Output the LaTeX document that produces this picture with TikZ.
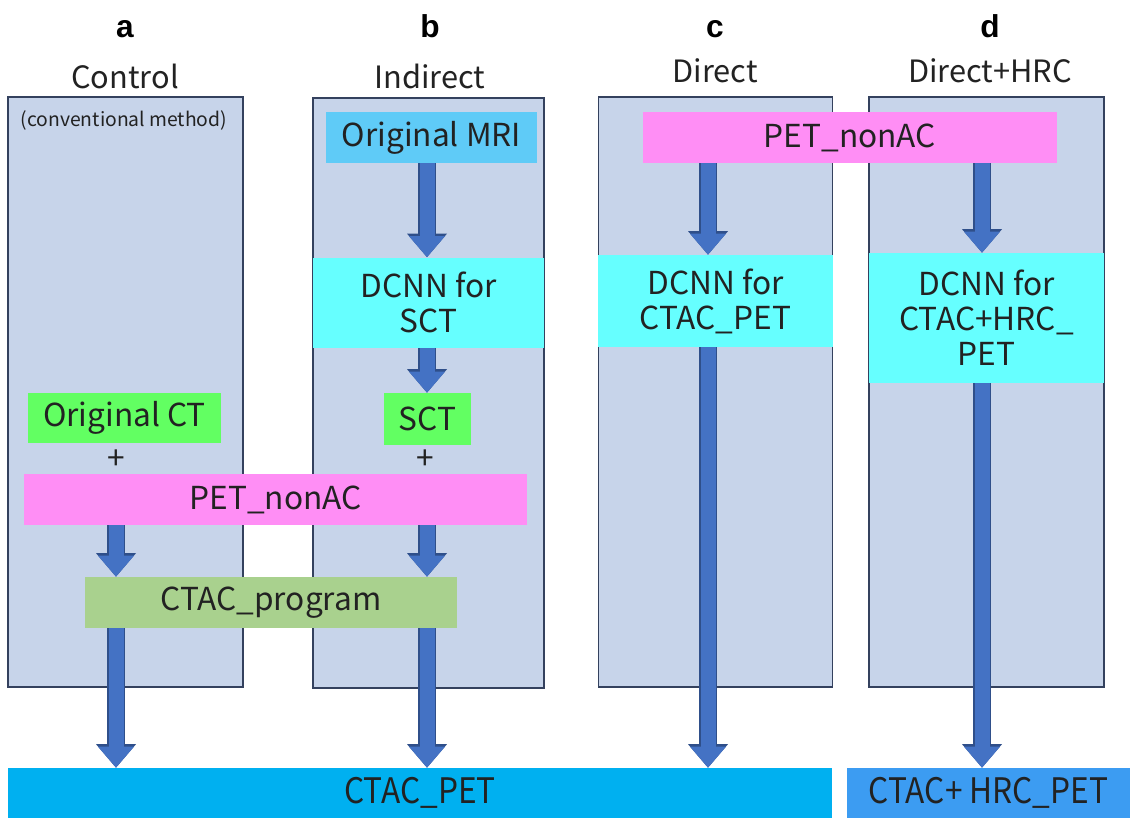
\documentclass[tikz,border=0pt]{standalone}
\usepackage{fontspec}
\setmainfont{Noto Sans CJK JP}
\newfontfamily\letterfont{Liberation Sans}
\newfontfamily\narrowfont[FakeStretch=0.9]{Noto Sans CJK JP}
\usepackage{xcolor}
\usepackage{tikz}
\usetikzlibrary{arrows.meta}
\usetikzlibrary{shapes}
\definecolor{panelfill}{HTML}{C7D4EA}
\definecolor{paneledge}{HTML}{34415E}
\definecolor{mriblue}{HTML}{5FCBF7}
\definecolor{petpink}{HTML}{FF8EF5}
\definecolor{dcnncyan}{HTML}{66FFFF}
\definecolor{ctgreen}{HTML}{62FF62}
\definecolor{proggreen}{HTML}{A9D18E}
\definecolor{ctacblue}{HTML}{00B0F0}
\definecolor{hrcblue}{HTML}{3C9CF2}
\definecolor{arrowfill}{HTML}{4472C4}
\definecolor{arrowedge}{HTML}{2F4F8A}
\definecolor{textdark}{HTML}{222222}
\tikzset{>=latex}
\tikzstyle{panel} = [rectangle, draw = paneledge, fill = panelfill, line width = 0.6pt, minimum width = 4.7cm, minimum height = 11.8cm, inner sep = 0]
\tikzstyle{stepbox} = [rectangle, inner sep = 0, text = textdark, align = center, font = \fontsize{18}{20}\selectfont]
\tikzstyle{title} = [inner sep = 0, anchor = base, text = textdark, font = \fontsize{17.5}{20}\selectfont]
\tikzstyle{letter} = [inner sep = 0, anchor = base, font = \fontsize{18}{20}\letterfont\bfseries]
\tikzstyle{flow} = [line width = 0.3cm, draw = arrowfill, -{Triangle[width = 0.72cm, length = 0.42cm, line width = 0pt]}, preaction = {draw = arrowedge, line width = 0.35cm, -{Triangle[width = 0.8cm, length = 0.47cm, line width = 0pt]}}]

\begin{document}
\begin{tikzpicture}
\useasboundingbox (0, 0) rectangle (22.6, -16.36);
\node [letter] (la) at (2.5, -0.74) {a};
\node [letter] (lb) at (8.6, -0.74) {b};
\node [letter] (lc) at (14.3, -0.74) {c};
\node [letter] (ld) at (19.8, -0.74) {d};
\node [title] (ta) at (2.5, -1.76) {Control};
\node [title] (tb) at (8.6, -1.76) {Indirect};
\node [title] (tc) at (14.3, -1.64) {Direct};
\node [title] (td) at (19.8, -1.64) {Direct+HRC};
\node [panel] (pa) at (2.51, -7.84) {};
\node [panel, minimum width = 4.62cm] (pb) at (8.57, -7.86) {};
\node [panel, minimum width = 4.68cm] (pc) at (14.31, -7.84) {};
\node [panel] (pd) at (19.73, -7.84) {};
\node [inner sep = 0, text = textdark, font = \fontsize{11}{12}\selectfont] (conv) at (2.48, -2.4) {(conventional method)};
\node [stepbox, fill = mriblue, minimum width = 4.22cm, minimum height = 1.02cm] (mri) at (8.63, -2.75) {Original MRI};
\node [stepbox, fill = petpink, minimum width = 8.28cm, minimum height = 1.02cm] (pettop) at (17.0, -2.75) {PET\_nonAC};
\node [stepbox, fill = dcnncyan, minimum width = 4.62cm, minimum height = 1.8cm] (dsct) at (8.57, -6.05) {DCNN for\\SCT};
\node [stepbox, fill = dcnncyan, minimum width = 4.7cm, minimum height = 1.84cm] (dcc) at (14.31, -6.02) {DCNN for\\CTAC\_PET};
\node [stepbox, fill = dcnncyan, minimum width = 4.7cm, minimum height = 2.6cm] (dhrc) at (19.73, -6.36) {DCNN for\\CTAC+HRC\_\\PET};
\node [stepbox, fill = ctgreen, minimum width = 3.86cm, minimum height = 1.0cm] (ct) at (2.49, -8.36) {Original CT};
\node [stepbox, fill = ctgreen, minimum width = 1.74cm, minimum height = 1.04cm] (sct) at (8.55, -8.38) {SCT};
\node [stepbox] (plusa) at (2.32, -9.2) {+};
\node [stepbox] (plusb) at (8.5, -9.2) {+};
\node [stepbox, fill = petpink, minimum width = 10.06cm, minimum height = 1.02cm] (petL) at (5.51, -9.99) {PET\_nonAC};
\node [stepbox, fill = proggreen, minimum width = 7.44cm, minimum height = 1.02cm] (prog) at (5.42, -12.05) {CTAC\_program};
\node [stepbox, fill = ctacblue, minimum width = 16.48cm, minimum height = 1.0cm, font = \fontsize{20}{22}\narrowfont] (ctacpet) at (8.4, -15.86) {CTAC\_PET};
\node [stepbox, fill = hrcblue, minimum width = 5.66cm, minimum height = 1.0cm, font = \fontsize{20}{22}\narrowfont] (hrcpet) at (19.77, -15.86) {CTAC+ HRC\_PET};
\coordinate (ca) at (2.32, 0);
\coordinate (cb) at (8.54, 0);
\coordinate (cc) at (14.16, 0);
\coordinate (cd) at (19.64, 0);
\draw [flow] (mri.south -| cb) to (dsct.north -| cb);
\draw [flow] (dsct.south -| cb) to (sct.north -| cb);
\draw [flow] (petL.south -| ca) to (prog.north -| ca);
\draw [flow] (petL.south -| cb) to (prog.north -| cb);
\draw [flow] (prog.south -| ca) to (ctacpet.north -| ca);
\draw [flow] (prog.south -| cb) to (ctacpet.north -| cb);
\draw [flow] (pettop.south -| cc) to (dcc.north -| cc);
\draw [flow] (pettop.south -| cd) to (dhrc.north -| cd);
\draw [flow] (dcc.south -| cc) to (ctacpet.north -| cc);
\draw [flow] (dhrc.south -| cd) to (hrcpet.north -| cd);
\end{tikzpicture}
\end{document}
